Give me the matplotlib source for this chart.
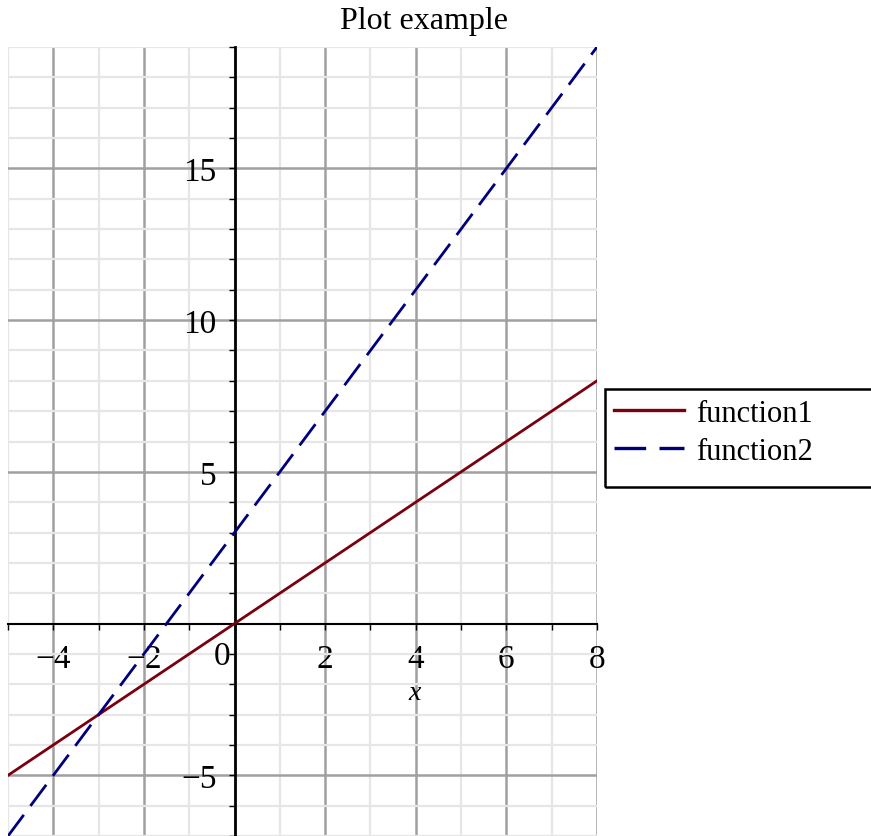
import numpy as np
import matplotlib
matplotlib.use("Agg")
import matplotlib.pyplot as plt
from matplotlib.ticker import MultipleLocator
from matplotlib.patches import Rectangle

plt.rcParams['font.family'] = ['Liberation Serif', 'DejaVu Serif']
plt.rcParams['mathtext.fontset'] = 'custom'
plt.rcParams['mathtext.it'] = 'Liberation Serif:italic'

# data: two straight lines sampled at the plot range ends
xValues = [-5, 8]
function1 = [-5, 8]     # y = x
function2 = [-7, 19]    # y = 2x + 3
xTicks = [-4, -2, 2, 4, 6, 8]
yTicks = [-5, 5, 10, 15]

fig = plt.figure(figsize=(8.71, 8.37), dpi=100)
ax = fig.add_axes([8/871, 0, 589/871, 1 - 48/837])

ax.plot(xValues, function1, color="#7a0010", lw=2.0, label="function1", zorder=4)
ax.plot(xValues, function2, color="#00007a", lw=2.0, dashes=(9.5, 4), label="function2", zorder=4)

ax.set_xlim(-5, 8)
ax.set_ylim(-7, 19)

ax.xaxis.set_major_locator(MultipleLocator(2))
ax.xaxis.set_minor_locator(MultipleLocator(1))
ax.yaxis.set_major_locator(MultipleLocator(5))
ax.yaxis.set_minor_locator(MultipleLocator(1))

ax.grid(which="minor", color="#e6e6e6", lw=1.6, zorder=0)
ax.grid(which="major", color="#a0a0a0", lw=1.8, zorder=1)
ax.set_axisbelow(True)

for side in ["top", "right"]:
    ax.spines[side].set_visible(False)
ax.spines["left"].set_position(("data", 0))
ax.spines["bottom"].set_position(("data", 0))
ax.spines["left"].set_linewidth(2.0)
ax.spines["bottom"].set_linewidth(1.5)
ax.spines["left"].set_zorder(3)
ax.spines["bottom"].set_zorder(3)

ax.set_xticks(xTicks)
ax.set_xticklabels([f"{t}".replace("-", "\u2212") for t in xTicks])
ax.set_yticks(yTicks)
ax.set_yticklabels([f"{t}".replace("-", "\u2212") for t in yTicks])
ax.tick_params(which="both", direction="out", length=4, width=1.0, color="black",
               labelsize=24)
ax.tick_params(axis="x", which="major", pad=10)
ax.tick_params(axis="y", which="major", pad=9)
ax.tick_params(which="minor", length=4, width=1.0)

ax.text(-0.28, -0.55, "0", fontsize=24, ha="center", va="top")
ax.text(0.691, 0.182, "$x$", transform=ax.transAxes, fontsize=20, ha="center", va="center")

fig.text(424/871, 1 - 22/837, "Plot example", fontsize=23, ha="center", va="center")

# legend box (Maple style, runs off the right edge)
fig.patches.append(Rectangle((605/871, 1 - 488/837), 280/871, 98/837,
                             transform=fig.transFigure, fill=False,
                             edgecolor="black", lw=1.8))
leg = ax.legend(loc="upper left", bbox_to_anchor=(614/871, 1 - 400/837),
                bbox_transform=fig.transFigure, fontsize=22, frameon=False,
                handlelength=2.3, handletextpad=0.4, borderpad=0.0,
                labelspacing=0.3, borderaxespad=0)
for line in leg.get_lines():
    line.set_linewidth(2.4)

fig.savefig("out.png", dpi=100)
